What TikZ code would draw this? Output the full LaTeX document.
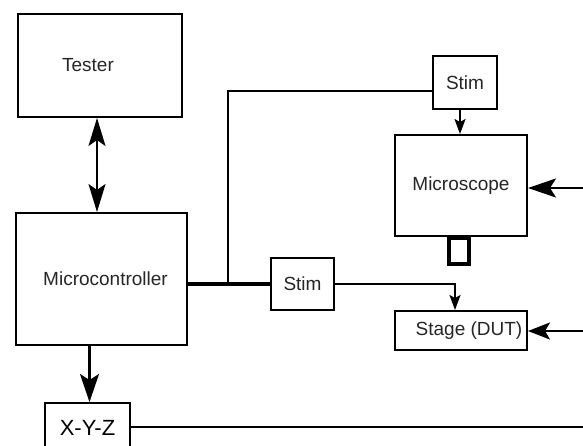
\documentclass[tikz,border=0pt]{standalone}
\usepackage{fontspec}
\setmainfont{Liberation Sans}
\usetikzlibrary{arrows.meta}
\begin{document}
\begin{tikzpicture}[x=1pt,y=-1pt,
  box/.style={draw,line width=2pt,inner sep=0pt,anchor=north west,text=black!85,font=\fontsize{19}{21}\selectfont},
  bigtip/.style={-{Stealth[length=28pt,width=19pt,inset=6pt]}},
  midtip/.style={-{Stealth[length=22pt,width=17pt,inset=5pt]}},
  smalltip/.style={-{Stealth[length=15pt,width=11pt,inset=3pt]}},
  dbltip/.style={{Stealth[length=28pt,width=17pt,inset=6pt]}-{Stealth[length=28pt,width=17pt,inset=6pt]}}
]
\clip (0,0) rectangle (583,445);
\fill[white] (0,0) rectangle (583,445);

\node[box,minimum width=164pt,minimum height=103pt] (tester) at (17,13) {Tester\hspace*{24pt}};
\node[box,minimum width=171pt,minimum height=132pt] (micro) at (15,212) {\raisebox{-5pt}{\hspace*{8pt}Microcontroller}};
\node[box,minimum width=64pt,minimum height=53pt] (stima) at (432,55) {Stim};
\node[box,minimum width=63pt,minimum height=52pt] (stimb) at (270,257) {Stim};
\node[box,minimum width=132pt,minimum height=101pt] (scope) at (394,134) {\raisebox{-3pt}{Microscope}};
\node[draw,line width=3.5pt,inner sep=0pt,anchor=north west,minimum width=20pt,minimum height=26pt] (nozzle) at (447,236) {};
\node[box,minimum width=132pt,minimum height=39pt] (stage) at (394,310) {\hspace*{16pt}Stage (DUT)};
\node[box,minimum width=85pt,minimum height=50pt,text=black,font=\fontsize{22}{24}\selectfont] (xyz) at (44,402) {X-Y-Z};

\coordinate (j) at (228,284);
\coordinate (ina) at (583,188);
\coordinate (inb) at (583,331);
\coordinate (outc) at (583,427);

% Tester <-> Microcontroller
\draw[dbltip,line width=2pt] ([xshift=-3pt]tester.south) -- ([xshift=-3pt]tester.south |- micro.north);
% Microcontroller -> Stim
\draw[line width=4pt] (micro.east |- j) -- (j) -- (j -| stimb.west);
% branch up to top Stim
\draw[line width=2.6pt] (j) |- ([yshift=-8.5pt]stima.west);
% Stim -> Microscope
\draw[smalltip,line width=2pt] ([xshift=-5pt]stima.south) -- ([xshift=-5pt]stima.south |- scope.north);
% Stim -> Stage
\draw[smalltip,line width=1.8pt] (stimb.east |- j) -| ([xshift=-6pt]stage.north);
% right-side inputs
\draw[bigtip,line width=2.2pt] (ina) -- (ina -| scope.east);
\draw[midtip,line width=2pt] (inb) -- (inb -| stage.east);
% Microcontroller -> X-Y-Z
\draw[bigtip,line width=2.2pt] ([xshift=-12pt]micro.south) -- ([xshift=-12pt]micro.south |- xyz.north);
% X-Y-Z output
\draw[line width=1.8pt] (xyz.east |- outc) -- (outc);
\end{tikzpicture}
\end{document}
